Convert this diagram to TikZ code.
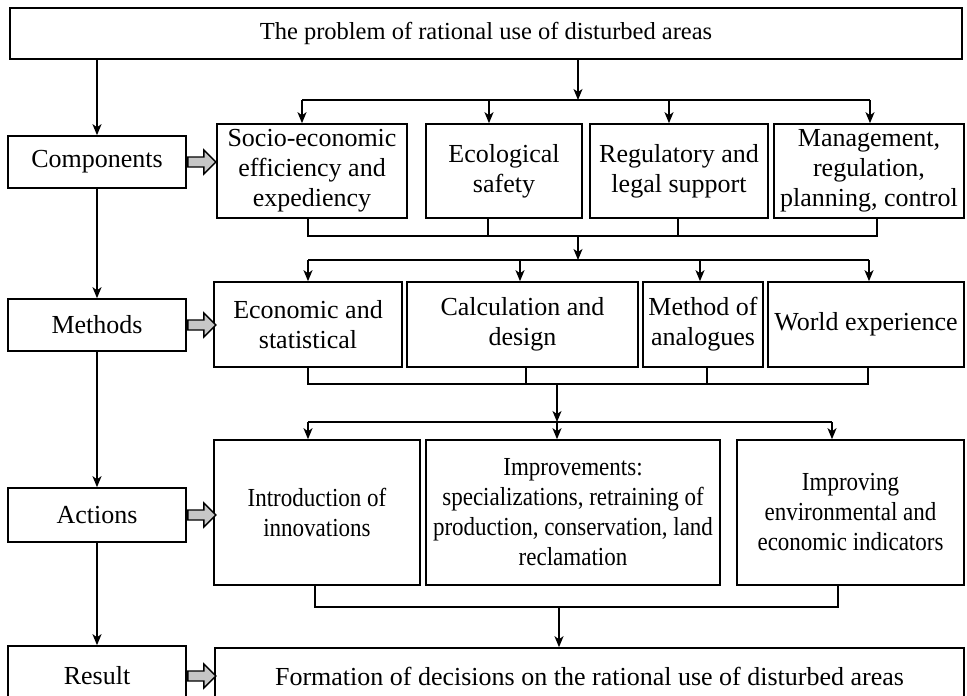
\documentclass[tikz,border=0pt]{standalone}
\usepackage{fontspec}
\setmainfont{Liberation Serif}
\newfontfamily\condfont{Liberation Serif}[FakeStretch=0.885]
\usetikzlibrary{arrows.meta}
\begin{document}
\begin{tikzpicture}[x=1pt,y=-1pt,
  box/.style={draw, line width=1.6pt, inner sep=0pt, align=center, font=\fontsize{26}{30}\selectfont},
  cbox/.style={box, font=\condfont\fontsize{26}{30}\selectfont},
  arr/.style={line width=1.4pt, -{Stealth[length=11pt,width=9pt,inset=3pt]}},
  ln/.style={line width=1.4pt},
  hol/.style={draw, line width=1.4pt, fill=gray!45, line join=miter}]
\useasboundingbox (0,0) rectangle (967,696);
\clip (0,0) rectangle (967,696);
% title
\node[box, font=\fontsize{24.5}{30}\selectfont, minimum width=952pt, minimum height=51pt] (top) at (486,33.5) {The problem of rational use of disturbed areas};
% left column
\node[box, minimum width=178pt, minimum height=52pt] (comp) at (97,162) {Components};
\node[box, minimum width=178pt, minimum height=52pt] (meth) at (97,325) {Methods};
\node[box, minimum width=178pt, minimum height=54pt] (act) at (97,515) {Actions};
\node[box, minimum width=178pt, minimum height=60pt] (res) at (97,676) {Result};
% row 1
\node[box, minimum width=190pt, minimum height=94pt] (socio) at (312,171) {Socio-economic\\efficiency and\\expediency};
\node[box, minimum width=156pt, minimum height=94pt] (eco) at (504,171) {Ecological\\safety};
\node[box, minimum width=178pt, minimum height=94pt] (reg) at (679,171) {Regulatory and\\legal support};
\node[box, minimum width=190pt, minimum height=94pt] (mgmt) at (869,171) {Management,\\regulation,\\planning, control};
% row 2
\node[box, minimum width=188pt, minimum height=85pt] (econ) at (308,324.5) {Economic and\\statistical};
\node[box, minimum width=231pt, minimum height=85pt] (calc) at (522.5,324.5) {Calculation and\\design};
\node[box, minimum width=120pt, minimum height=85pt] (anal) at (703,324.5) {Method of\\analogues};
\node[box, minimum width=196pt, minimum height=85pt] (world) at (866,324.5) {World experience};
% row 3
\node[cbox, minimum width=206pt, minimum height=145pt] (intro) at (317,512.5) {Introduction of\\innovations};
\node[cbox, minimum width=294pt, minimum height=145pt] (impr) at (573,512.5) {Improvements:\\specializations, retraining of\\production, conservation, land\\reclamation};
\node[cbox, minimum width=227pt, minimum height=145pt] (impv) at (850.5,512.5) {Improving\\environmental and\\economic indicators};
% result
\node[box, minimum width=749pt, minimum height=56pt] (form) at (589.5,676) {Formation of decisions on the rational use of disturbed areas};

% left spine
\draw[arr] (comp.north |- top.south) -- (comp.north);
\draw[arr] (comp.south) -- (meth.north);
\draw[arr] (meth.south) -- (act.north);
\draw[arr] (act.south) -- (res.north);

% hollow arrows
\foreach \n in {comp,meth,act,res}{
  \draw[hol, shift={(\n.east)}] (1,-5) -- (17,-5) -- (17,-12) -- (29,0) -- (17,12) -- (17,5) -- (1,5) -- cycle;
}

% distribution 1
\coordinate (d1) at (578,100);
\draw[arr] (d1 |- top.south) -- (d1);
\draw[ln] (302,100) -- (870,100);
\draw[arr] (302,100) -- (302,0 |- socio.north);
\draw[arr] (489,100) -- (489,0 |- eco.north);
\draw[arr] (669,100) -- (669,0 |- reg.north);
\draw[arr] (870,100) -- (870,0 |- mgmt.north);

% collector 1 / distribution 2
\coordinate (c1) at (578,236);
\coordinate (d2) at (578,260);
\draw[ln] (308,0 |- socio.south) -- (308,236) -- (877,236) -- (877,0 |- mgmt.south);
\draw[ln] (488,0 |- eco.south) -- (488,236);
\draw[ln] (678,0 |- reg.south) -- (678,236);
\draw[arr] (c1) -- (d2);
\draw[ln] (308,260) -- (869,260);
\draw[arr] (308,260) -- (308,0 |- econ.north);
\draw[arr] (520,260) -- (520,0 |- calc.north);
\draw[arr] (700,260) -- (700,0 |- anal.north);
\draw[arr] (869,260) -- (869,0 |- world.north);

% collector 2 / distribution 3
\coordinate (c2) at (557,384);
\coordinate (d3) at (557,422);
\draw[ln] (308,0 |- econ.south) -- (308,384) -- (868,384) -- (868,0 |- world.south);
\draw[ln] (526,0 |- calc.south) -- (526,384);
\draw[ln] (707,0 |- anal.south) -- (707,384);
\draw[arr] (c2) -- (d3);
\draw[ln] (308,422) -- (832,422);
\draw[arr] (308,422) -- (308,0 |- intro.north);
\draw[arr] (d3) -- (d3 |- impr.north);
\draw[arr] (832,422) -- (832,0 |- impv.north);

% collector 3
\coordinate (c3) at (559,607);
\draw[ln] (315,0 |- intro.south) -- (315,607) -- (838,607) -- (838,0 |- impv.south);
\draw[arr] (c3) -- (c3 |- form.north);
\end{tikzpicture}
\end{document}
